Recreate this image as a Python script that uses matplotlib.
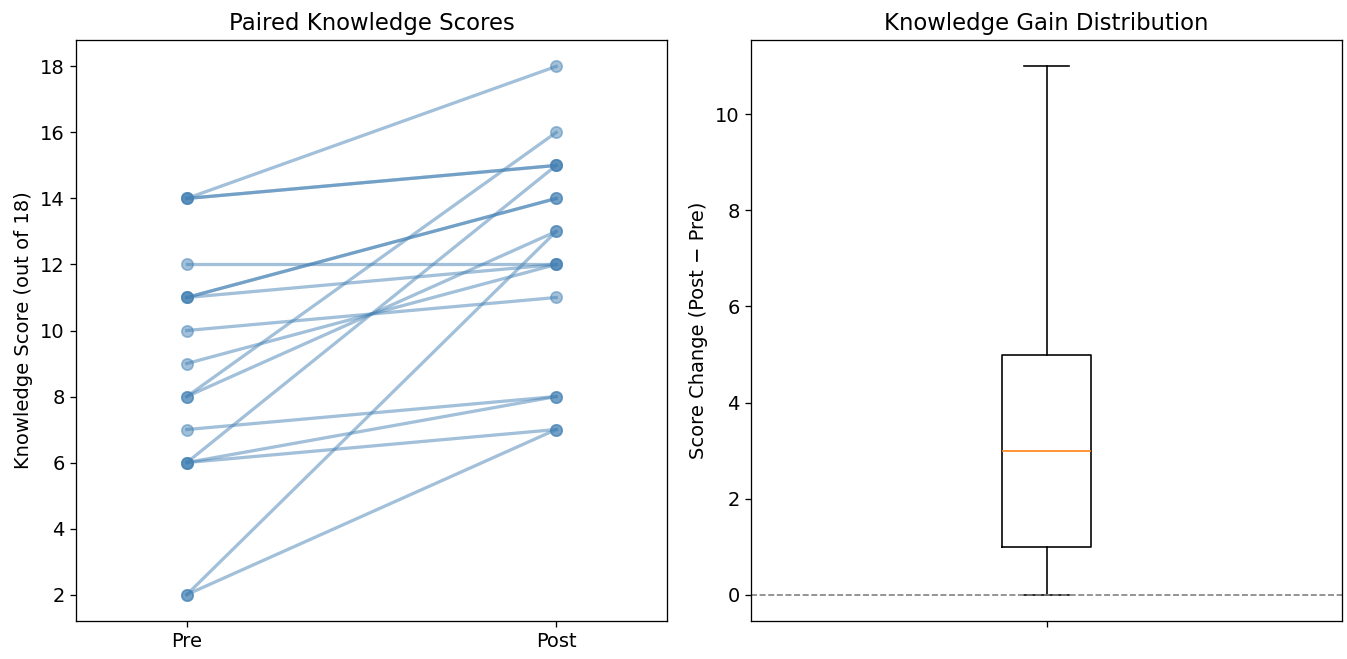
import numpy as np
import matplotlib
matplotlib.use("Agg")
import matplotlib.pyplot as plt

# Knowledge test scores (out of 18) for each participant, before and after
pre_scores = [14, 14, 14, 12, 11, 11, 11, 10, 9, 8, 8, 7, 6, 6, 6, 2, 2]
post_scores = [18, 15, 15, 12, 14, 14, 12, 11, 12, 16, 13, 8, 15, 8, 7, 13, 7]
time_labels = ["Pre", "Post"]

pre = np.array(pre_scores)
post = np.array(post_scores)
gain = post - pre

DPI = 117
W, H = 1347, 659
fig = plt.figure(figsize=(W / DPI, H / DPI), dpi=DPI)
ax1 = fig.add_axes([76 / W, 1 - 621 / H, (667 - 76) / W, (621 - 40) / H])
ax2 = fig.add_axes([751 / W, 1 - 621 / H, (1342 - 751) / W, (621 - 40) / H])

# Paired lines, one per participant
for a, b in zip(pre, post):
    ax1.plot([0, 1], [a, b], marker="o", color="steelblue", alpha=0.5,
             linewidth=2, markersize=7)
ax1.set_xticks([0, 1])
ax1.set_xticklabels(time_labels, fontsize=12)
ax1.set_xlim(-0.3, 1.3)
ax1.set_ylabel("Knowledge Score (out of 18)", fontsize=12)
ax1.set_title("Paired Knowledge Scores", fontsize=14)
ax1.tick_params(axis="y", labelsize=12)

# Distribution of score change
ax2.boxplot(gain, widths=0.15)
ax2.axhline(0, color="gray", linestyle="--", linewidth=1)
ax2.set_xticks([1])
ax2.set_xticklabels([""])
ax2.set_ylabel("Score Change (Post \u2212 Pre)", fontsize=12)
ax2.set_title("Knowledge Gain Distribution", fontsize=14)
ax2.tick_params(axis="y", labelsize=12)

fig.savefig("out.png", dpi=DPI)
